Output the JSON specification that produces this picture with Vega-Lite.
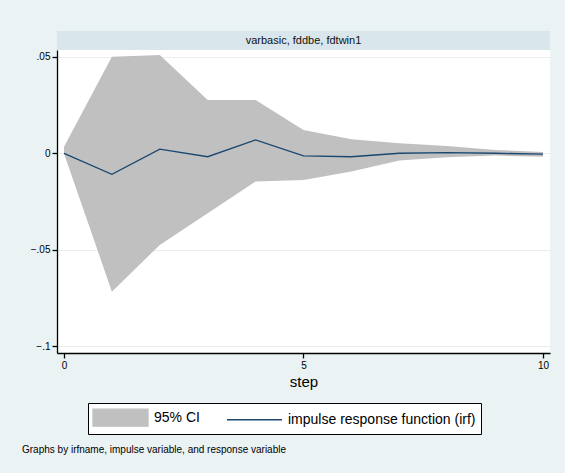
{
  "$schema": "https://vega.github.io/schema/vega-lite/v6.json",
  "background": "#eaf2f3",
  "padding": {"left": 22, "top": 31, "right": 15, "bottom": 21},
  "bounds": "flush",
  "spacing": 0,
  "config": {
    "font": "Liberation Sans",
    "view": {"stroke": null}
  },
  "datasets": {
    "irf": [
      {"step": 0, "irf": 0.0, "lower": 0.0, "upper": 0.0035},
      {"step": 1, "irf": -0.0108, "lower": -0.0716, "upper": 0.0501},
      {"step": 2, "irf": 0.0022, "lower": -0.0474, "upper": 0.051},
      {"step": 3, "irf": -0.0017, "lower": -0.031, "upper": 0.0277},
      {"step": 4, "irf": 0.007, "lower": -0.0146, "upper": 0.0277},
      {"step": 5, "irf": -0.0013, "lower": -0.0137, "upper": 0.0122},
      {"step": 6, "irf": -0.0017, "lower": -0.0094, "upper": 0.0073},
      {"step": 7, "irf": 0.0001, "lower": -0.0037, "upper": 0.0053},
      {"step": 8, "irf": 0.0004, "lower": -0.002, "upper": 0.0039},
      {"step": 9, "irf": 0.0001, "lower": -0.0011, "upper": 0.0018},
      {"step": 10, "irf": -0.0004, "lower": -0.0017, "upper": 0.0008}
    ]
  },
  "title": {
    "text": "Graphs by irfname, impulse variable, and response variable",
    "orient": "bottom",
    "anchor": "start",
    "frame": "group",
    "fontSize": 10,
    "fontWeight": "normal",
    "color": "#000000",
    "dx": -35,
    "offset": 10
  },
  "vconcat": [
    {
      "width": 493,
      "height": 19,
      "data": {"values": [{"label": "varbasic, fddbe, fdtwin1"}]},
      "view": {"fill": "#d9e6eb", "stroke": null},
      "mark": {"type": "text", "fontSize": 11, "color": "#111111"},
      "encoding": {"text": {"field": "label", "type": "nominal"}}
    },
    {
      "width": 493,
      "height": 303,
      "data": {"name": "irf"},
      "view": {"fill": "#ffffff", "stroke": null},
      "encoding": {
        "x": {
          "field": "step",
          "type": "quantitative",
          "scale": {"domain": [-0.146, 10.146], "nice": false, "zero": false},
          "axis": {
            "values": [0, 5, 10],
            "format": "d",
            "grid": false,
            "title": "step",
            "titleFontSize": 15,
            "titleFontWeight": "normal",
            "titleColor": "#000000",
            "titlePadding": 4,
            "labelFontSize": 10,
            "labelColor": "#000000",
            "labelPadding": 2,
            "tickSize": 5,
            "tickColor": "#000000",
            "domainColor": "#000000",
            "domainWidth": 1.3,
            "tickWidth": 1.3
          }
        }
      },
      "layer": [
        {
          "mark": {"type": "area", "opacity": 1, "fill": "#c0c0c0"},
          "encoding": {
            "y": {
              "field": "lower",
              "type": "quantitative",
              "scale": {"domain": [-0.1034, 0.0536], "nice": false, "zero": false},
              "axis": {
                "values": [-0.1, -0.05, 0, 0.05],
                "labelExpr": "replace(format(datum.value, '.2~f'), '0.', '.')",
                "title": null,
                "grid": true,
                "gridColor": "#e6eef1",
                "gridWidth": 1,
                "labelFontSize": 10,
                "labelColor": "#000000",
                "labelPadding": 2,
                "tickSize": 5,
                "tickColor": "#000000",
                "domainColor": "#000000",
                "domainWidth": 1.3,
                "tickWidth": 1.3
              }
            },
            "y2": {"field": "upper"}
          }
        },
        {
          "mark": {"type": "line", "strokeWidth": 1.3},
          "encoding": {
            "y": {"field": "irf", "type": "quantitative"},
            "color": {
              "datum": "impulse response function (irf)",
              "type": "nominal",
              "scale": {
                "domain": ["95% CI", "impulse response function (irf)"],
                "range": ["#c0c0c0", "#1a476f"]
              },
              "legend": {
                "orient": "none",
                "legendX": 31,
                "legendY": 372,
                "direction": "horizontal",
                "title": null,
                "strokeColor": "#000000",
                "fillColor": "#ffffff",
                "padding": 5,
                "labelFontSize": 14,
                "labelColor": "#000000",
                "labelOffset": 42,
                "labelLimit": 400,
                "columnPadding": 24,
                "symbolSize": 289,
                "symbolStrokeWidth": 1.3,
                "encode": {
                  "symbols": {
                    "update": {
                      "shape": {"signal": "datum.value === '95% CI' ? 'M-1.118,-1H5.353V1H-1.118Z' : 'M-1.118,0H5.353'"},
                      "fill": {"signal": "datum.value === '95% CI' ? '#c0c0c0' : 'transparent'"},
                      "stroke": {"signal": "datum.value === '95% CI' ? 'transparent' : '#1a476f'"},
                      "strokeWidth": {"value": 1.3},
                      "opacity": {"value": 1}
                    }
                  }
                }
              }
            }
          }
        }
      ]
    }
  ]
}
